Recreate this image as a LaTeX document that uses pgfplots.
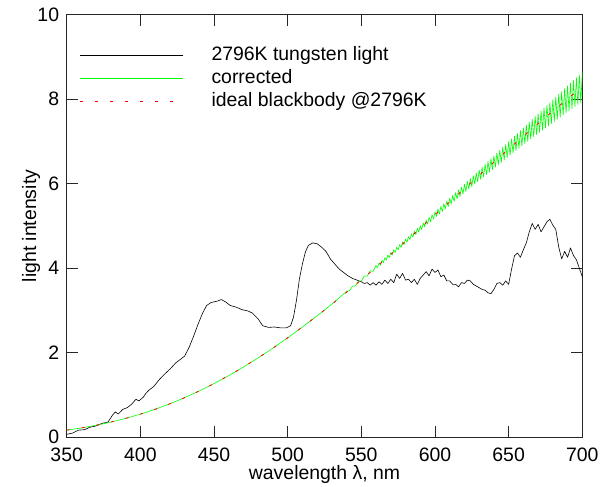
\documentclass[border=0pt]{standalone}
\usepackage{fontspec}
\setmainfont{Liberation Sans}
\usepackage{pgfplots}
\pgfplotsset{compat=1.18}
\definecolor{pgreen}{RGB}{0,255,0}
\begin{document}
\begin{tikzpicture}
\begin{axis}[
  at={(0,0)}, anchor=south west,
  scale only axis, width=515.6bp, height=422.6bp,
  xmin=350, xmax=700, ymin=0, ymax=10,
  xtick={350,400,...,700}, ytick={0,2,...,10},
  minor tick num=0,
  tick align=inside, major tick length=11.7bp,
  tick style={line width=0.8bp, color=black!85},
  axis line style={line width=0.8bp, color=black!85},
  /pgf/number format/assume math mode=true,
  /pgf/number format/1000 sep={},
  ticklabel style={font=\fontsize{19.5}{20}\selectfont, inner sep=0pt},
  xticklabel shift=10.5bp, yticklabel shift=7.4bp,
  label style={font=\fontsize{19.5}{20}\selectfont, inner sep=0pt},
  xlabel={wavelength λ, nm},
  xlabel style={at={(axis description cs:0.5,-0.1005)}, anchor=base},
  ylabel={light intensity},
  ylabel style={at={(axis description cs:-0.0595,0.5)}, anchor=base, rotate=0},
  legend style={draw=none, fill=none, inner sep=0pt, outer sep=0pt,
    at={(axis description cs:0,1)}, anchor=north west, xshift=13.3bp, yshift=-32bp,
    font=\fontsize{19.5}{20}\selectfont, row sep=4.8bp, column sep=28bp,
    nodes={inner sep=0pt, text height=14bp, text depth=4bp}},
  legend cell align=left,
  legend image code/.code={\draw[#1] (0bp,0bp) -- (102.7bp,0bp);},
]
\addplot[black, line width=0.6bp, line join=round] coordinates {
(350,0.07) (354,0.10) (358,0.17) (362,0.18) (366,0.24) (370,0.27) (374,0.33) (378,0.36)
(381,0.52) (383,0.60) (385,0.55) (388,0.66) (391,0.70) (394,0.78) (397,0.90) (399,0.86)
(402,0.95) (404,1.05) (406,1.12) (409,1.20) (413,1.37) (416,1.48) (420,1.61) (424,1.76)
(427,1.84) (430,1.92) (433,2.12) (436,2.38) (439,2.66) (442,2.92) (445,3.12) (448,3.19)
(452,3.22) (455,3.26) (458,3.20) (461,3.12) (465,3.08) (469,3.02) (473,2.99) (476,2.94)
(480,2.80) (483,2.64) (487,2.60) (491,2.61) (495,2.59) (499,2.59) (502,2.64) (504,2.85)
(506,3.25) (508,3.75) (510,4.10) (512,4.38) (514,4.54) (517,4.60) (520,4.58) (523,4.50)
(526,4.40) (529,4.22) (532,4.10) (535,3.98) (538,3.90) (541,3.82) (544,3.76) (547,3.72)
(550,3.68) (552,3.64) (554,3.66) (556,3.60) (558,3.66) (560,3.60) (562,3.68) (564,3.62)
(566,3.72) (568,3.64) (570,3.74) (572,3.66) (574,3.86) (576,3.76) (578,3.88) (580,3.72)
(582,3.74) (584,3.66) (586,3.74) (588,3.62) (590,3.76) (592,3.84) (594,3.92) (596,3.82)
(598,3.98) (600,3.90) (602,3.96) (604,3.80) (606,3.84) (608,3.70) (610,3.70) (612,3.62)
(614,3.62) (616,3.56) (618,3.66) (620,3.64) (622,3.72) (624,3.70) (626,3.62) (628,3.58)
(630,3.54) (632,3.50) (634,3.48) (636,3.42) (638,3.40) (640,3.50) (642,3.64) (644,3.66)
(646,3.60) (648,3.70) (650,3.62) (652,3.98) (654,4.30) (656,4.36) (658,4.26) (660,4.44)
(662,4.60) (664,4.86) (666,5.06) (668,4.92) (670,5.04) (672,4.86) (674,4.98) (676,5.10)
(678,5.16) (680,5.02) (682,4.92) (684,4.50) (686,4.22) (688,4.40) (690,4.26) (692,4.48)
(694,4.30) (696,4.20) (698,4.00) (700,3.80)
};
\addlegendentry{2796K tungsten light}
\addplot[pgreen, line width=0.6bp, line join=round] coordinates {
(350,0.170) (360,0.222) (370,0.285) (380,0.360) (390,0.447) (400,0.548) (410,0.663)
(420,0.793) (430,0.937) (440,1.096) (450,1.271) (460,1.460) (470,1.663) (480,1.880)
(490,2.111) (500,2.354) (510,2.609) (520,2.875) (530,3.150)
(540,3.454) (542,3.470) (544,3.575) (546,3.583) (548,3.696) (550,3.696) (552,3.818)
(554,3.812) (556,3.941) (558,3.927)
(560,4.065) (561,4.015) (562,4.127) (563,4.075) (564,4.188) (565,4.134) (566,4.250)
(567,4.194) (568,4.311) (569,4.253) (570,4.373) (571,4.314) (572,4.436) (573,4.374)
(574,4.498) (575,4.435) (576,4.561) (577,4.495) (578,4.623) (579,4.556) (580,4.686)
(581,4.616) (582,4.750) (583,4.676) (584,4.814) (585,4.737) (586,4.879) (587,4.797)
(588,4.943) (589,4.857) (590,5.007) (591,4.918) (592,5.073) (593,4.980) (594,5.139)
(595,5.042) (596,5.204) (597,5.103) (598,5.270) (599,5.165) (600,5.336) (601,5.226)
(602,5.401) (603,5.284) (604,5.465) (605,5.343) (606,5.530) (607,5.401) (608,5.594)
(609,5.460) (610,5.659) (611,5.519) (612,5.725) (613,5.579) (614,5.790) (615,5.638)
(616,5.856) (617,5.698) (618,5.921) (619,5.757) (620,5.987) (621,5.816) (622,6.055)
(623,5.874) (624,6.122) (625,5.931) (626,6.190) (627,5.989) (628,6.257) (629,6.046)
(630,6.325) (631,6.104) (632,6.392) (633,6.161) (634,6.460) (635,6.219) (636,6.527)
(637,6.276) (638,6.595) (639,6.334) (640,6.662) (641,6.391) (642,6.729) (643,6.447)
(644,6.795) (645,6.504) (646,6.862) (647,6.560) (648,6.928) (649,6.617) (650,6.995)
(651,6.673) (652,7.061) (653,6.729) (654,7.127) (655,6.785) (656,7.192) (657,6.840)
(658,7.258) (659,6.896) (660,7.324) (661,6.951) (662,7.391) (663,7.004) (664,7.458)
(665,7.057) (666,7.525) (667,7.110) (668,7.592) (669,7.163) (670,7.659) (671,7.215)
(672,7.725) (673,7.267) (674,7.791) (675,7.319) (676,7.856) (677,7.370) (678,7.922)
(679,7.422) (680,7.988) (681,7.473) (682,8.054) (683,7.523) (684,8.120) (685,7.573)
(686,8.185) (687,7.622) (688,8.251) (689,7.672) (690,8.317) (691,7.722) (692,8.382)
(693,7.770) (694,8.446) (695,7.819) (696,8.511) (697,7.867) (698,8.575) (699,7.916)
(700,8.640)
};
\addlegendentry{corrected}
\addplot[red, line width=0.8bp, dash pattern=on 3bp off 12bp] coordinates {
(350,0.170) (360,0.222) (370,0.285) (380,0.360) (390,0.447) (400,0.548) (410,0.663)
(420,0.793) (430,0.937) (440,1.096) (450,1.271) (460,1.460) (470,1.663) (480,1.880)
(490,2.111) (500,2.354) (510,2.609) (520,2.875) (530,3.150) (540,3.434) (550,3.726)
(560,4.025) (570,4.328) (580,4.636) (590,4.947) (600,5.266) (610,5.574) (620,5.887)
(630,6.200) (640,6.512) (650,6.820) (660,7.124) (670,7.424) (680,7.718) (690,8.007)
(700,8.290)
};
\addlegendentry{ideal blackbody @2796K}
\end{axis}
\pgfresetboundingbox
\path (-66.7bp,-49.7bp) rectangle (543.3bp,437.3bp);
\end{tikzpicture}
\end{document}
